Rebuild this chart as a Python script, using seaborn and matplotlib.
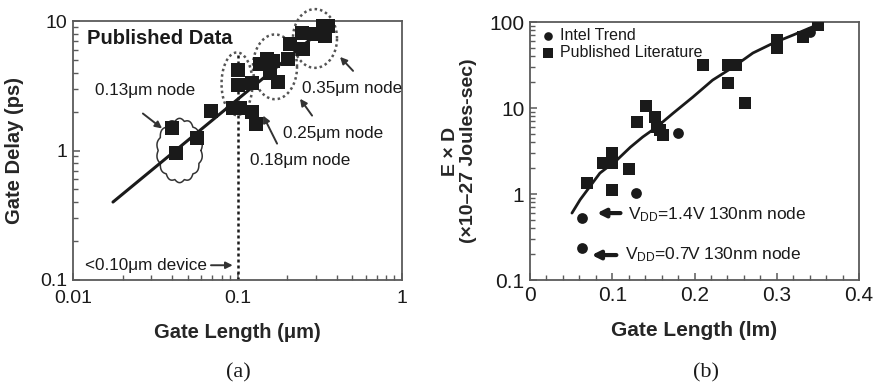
import numpy as np
import pandas as pd
import matplotlib
matplotlib.use("Agg")
import matplotlib.pyplot as plt
import seaborn as sns
from matplotlib.ticker import FixedLocator, FixedFormatter, LogLocator, MultipleLocator, NullFormatter

# ---------------- data ----------------
# (a) Gate delay vs gate length (published data)
a_length = [0.040, 0.042, 0.057, 0.069, 0.094, 0.103, 0.100, 0.100, 0.122, 0.130,
            0.122, 0.137, 0.152, 0.158, 0.164, 0.176, 0.203, 0.208, 0.246, 0.250,
            0.290, 0.330, 0.355, 0.340]
a_delay = [1.50, 0.95, 1.24, 2.03, 2.14, 2.14, 3.2, 4.2, 2.0, 1.6,
           3.3, 4.67, 5.1, 4.0, 4.9, 3.4, 5.1, 6.6, 8.1, 6.1,
           7.9, 9.2, 9.2, 7.7]
a_trend_x = [0.0175, 0.35]
a_trend_y = [0.40, 9.2]
a_xticks = [0.01, 0.1, 1]
a_xticklabels = ["0.01", "0.1", "1"]
a_yticks = [0.1, 1, 10]
a_yticklabels = ["0.1", "1", "10"]

# (b) E x D vs gate length
b_lit_x = [0.069, 0.089, 0.100, 0.100, 0.100, 0.120, 0.130, 0.141, 0.152, 0.155,
           0.162, 0.158, 0.210, 0.241, 0.250, 0.241, 0.261, 0.300, 0.300, 0.332, 0.350]
b_lit_y = [1.34, 2.3, 2.3, 3.0, 1.11, 1.95, 6.9, 10.5, 7.9, 6.0,
           4.8, 5.5, 31.6, 31.6, 31.6, 19.5, 11.4, 61.7, 49.8, 67.0, 92.0]
b_intel_x = [0.063, 0.063, 0.129, 0.180, 0.340]
b_intel_y = [0.53, 0.235, 1.04, 5.1, 76.0]
b_trend_x = [0.051, 0.061, 0.085, 0.106, 0.122, 0.137, 0.154, 0.174, 0.198,
             0.222, 0.247, 0.271, 0.296, 0.320, 0.352]
b_trend_y = [0.60, 0.86, 1.75, 2.5, 3.5, 4.6, 6.0, 8.7, 13.4,
             21.1, 29.9, 43.6, 57.0, 70.6, 95.0]
b_xticks = [0, 0.1, 0.2, 0.3, 0.4]
b_xticklabels = ["0", "0.1", "0.2", "0.3", "0.4"]
b_yticks = [0.1, 1, 10, 100]
b_yticklabels = ["0.1", "1", "10", "100"]

# ---------------- style ----------------
sns.set_style("ticks")
plt.rcParams["font.family"] = ["Liberation Sans", "DejaVu Sans"]
plt.rcParams["mathtext.fontset"] = "custom"
plt.rcParams["mathtext.rm"] = "Liberation Sans"
plt.rcParams["mathtext.it"] = "Liberation Sans:italic"

INK = "#1a1a1a"
SPINE = "#5a5a5a"

fig = plt.figure(figsize=(8.77, 3.87), dpi=100)
W, H = 877, 387
axA = fig.add_axes([73 / W, 1 - 280 / H, 329 / W, 259 / H])
axB = fig.add_axes([530 / W, 1 - 280 / H, 329 / W, 258 / H])


def style_axis(ax, fs):
    for s in ["top", "right", "bottom", "left"]:
        ax.spines[s].set_color(SPINE)
        ax.spines[s].set_linewidth(1.3)
    ax.tick_params(which="both", direction="in", colors=SPINE, labelcolor=INK,
                   labelsize=fs, top=False, right=False)
    ax.tick_params(which="major", length=5, width=1.1, pad=4)
    ax.tick_params(which="minor", length=3.5, width=1.0)


# ---------------- panel (a) ----------------
dfa = pd.DataFrame({"length": a_length, "delay": a_delay})
dfa_t = pd.DataFrame({"length": a_trend_x, "delay": a_trend_y})
axA.set_xscale("log")
axA.set_yscale("log")
sns.lineplot(data=dfa_t, x="length", y="delay", ax=axA, color=INK, lw=2.2, sort=False)
sns.scatterplot(data=dfa, x="length", y="delay", ax=axA, marker="s", s=110,
                color=INK, edgecolor=INK, linewidth=0, zorder=3, clip_on=False)
axA.set_xlim(0.01, 1)
axA.set_ylim(0.1, 10)
style_axis(axA, 14)
axA.tick_params(axis="x", which="major", pad=7)
axA.xaxis.set_major_locator(FixedLocator(a_xticks))
axA.xaxis.set_major_formatter(FixedFormatter(a_xticklabels))
axA.yaxis.set_major_locator(FixedLocator(a_yticks))
axA.yaxis.set_major_formatter(FixedFormatter(a_yticklabels))
axA.xaxis.set_minor_locator(LogLocator(base=10, subs=np.arange(2, 10)))
axA.yaxis.set_minor_locator(LogLocator(base=10, subs=np.arange(2, 10)))
axA.xaxis.set_minor_formatter(NullFormatter())
axA.yaxis.set_minor_formatter(NullFormatter())
axA.set_xlabel("Gate Length (\u03bcm)", fontsize=14.5, fontweight="bold", labelpad=12)
axA.set_ylabel("Gate Delay (ps)", fontsize=14.5, fontweight="bold", labelpad=12)

# vertical dotted line at 0.1 um
axA.plot([0.1, 0.1], [0.1, 5.7], color=INK, lw=1.8, ls=(0, (1.2, 1.2)), zorder=2)

# node ellipses (in log space)
t = np.linspace(0, 2 * np.pi, 400)


def log_ellipse(ax, cx, cy, a, b, wavy=False, **kw):
    r = 1 + (0.08 * np.abs(np.sin(7 * t)) if wavy else 0)
    xs = 10 ** (cx + a * r * np.cos(t))
    ys = 10 ** (cy + b * r * np.sin(t))
    ax.plot(xs, ys, clip_on=False, **kw)


dot = dict(color="#555555", lw=1.8, ls=(0, (1, 1.2)), zorder=1)
log_ellipse(axA, -1.003, 0.515, 0.094, 0.242, **dot)
log_ellipse(axA, -0.772, 0.646, 0.134, 0.25, **dot)
log_ellipse(axA, -0.529, 0.865, 0.134, 0.227, **dot)
log_ellipse(axA, -1.352, 0.0, 0.13, 0.23, wavy=True, color="#333333", lw=1.1, zorder=1)

ANNFS = 12.3
axA.text(0.0122, 7.3, "Published Data", fontsize=14.5, fontweight="bold", color=INK,
         va="center", ha="left")
arr = dict(arrowstyle="-|>", color="#333333", lw=1.4, mutation_scale=10, shrinkA=0, shrinkB=0)
axA.text(0.0136, 2.9, "0.13\u03bcm node", fontsize=ANNFS, color=INK, va="center", ha="left")
axA.annotate("", xy=(0.0348, 1.48), xytext=(0.0266, 1.93), arrowprops=arr)
axA.text(0.247, 3.0, "0.35\u03bcm node", fontsize=ANNFS, color=INK, va="center", ha="left")
axA.annotate("", xy=(0.42, 5.28), xytext=(0.504, 4.12), arrowprops=arr)
axA.text(0.189, 1.35, "0.25\u03bcm node", fontsize=ANNFS, color=INK, va="center", ha="left")
axA.annotate("", xy=(0.24, 2.51), xytext=(0.284, 1.86), arrowprops=arr)
axA.text(0.119, 0.84, "0.18\u03bcm node", fontsize=ANNFS, color=INK, va="center", ha="left")
axA.annotate("", xy=(0.143, 1.86), xytext=(0.174, 1.13), arrowprops=arr)
axA.text(0.0118, 0.13, "<0.10\u03bcm device", fontsize=ANNFS, color=INK, va="center", ha="left")
axA.annotate("", xy=(0.0935, 0.13), xytext=(0.069, 0.13), arrowprops=arr)

# ---------------- panel (b) ----------------
dfb = pd.concat([
    pd.DataFrame({"length": b_intel_x, "exd": b_intel_y, "source": "Intel Trend"}),
    pd.DataFrame({"length": b_lit_x, "exd": b_lit_y, "source": "Published Literature"}),
])
dfb_t = pd.DataFrame({"length": b_trend_x, "exd": b_trend_y})
axB.set_yscale("log")
sns.lineplot(data=dfb_t, x="length", y="exd", ax=axB, color=INK, lw=2.0, sort=False)
sns.scatterplot(data=dfb[dfb.source == "Intel Trend"], x="length", y="exd", ax=axB,
                marker="o", s=60, color=INK, edgecolor=INK, linewidth=0, zorder=3,
                label="Intel Trend")
sns.scatterplot(data=dfb[dfb.source == "Published Literature"], x="length", y="exd", ax=axB,
                marker="s", s=80, color=INK, edgecolor=INK, linewidth=0, zorder=3,
                label="Published Literature")
axB.set_xlim(0, 0.4)
axB.set_ylim(0.1, 100)
style_axis(axB, 15)
axB.xaxis.set_major_locator(FixedLocator(b_xticks))
axB.xaxis.set_major_formatter(FixedFormatter(b_xticklabels))
axB.xaxis.set_minor_locator(MultipleLocator(0.02))
axB.yaxis.set_major_locator(FixedLocator(b_yticks))
axB.yaxis.set_major_formatter(FixedFormatter(b_yticklabels))
axB.yaxis.set_minor_locator(LogLocator(base=10, subs=np.arange(2, 10)))
axB.yaxis.set_minor_formatter(NullFormatter())
axB.set_xlabel("Gate Length (lm)", fontsize=15, fontweight="bold", labelpad=12)
axB.set_ylabel("E \u00d7 D\n(\u00d710\u201327 Joules-sec)", fontsize=14, fontweight="bold",
               labelpad=9, linespacing=1.1)

leg = axB.legend(loc="upper left", frameon=False, fontsize=11.5, handletextpad=0.1,
                 borderaxespad=0.1, labelspacing=0.12, handlelength=1.4,
                 borderpad=0.3, markerscale=0.8)
for txt in leg.get_texts():
    txt.set_color(INK)

arr2 = dict(arrowstyle="-|>", color=INK, lw=3.0, mutation_scale=12, shrinkA=0, shrinkB=0)
axB.text(0.119, 0.57, r"V$_{\rm DD}$=1.4V 130nm node", fontsize=12.5, color=INK,
         va="center", ha="left")
axB.annotate("", xy=(0.0815, 0.60), xytext=(0.110, 0.60), arrowprops=arr2)
axB.text(0.1155, 0.195, r"V$_{\rm DD}$=0.7V 130nm node", fontsize=12.5, color=INK,
         va="center", ha="left")
axB.annotate("", xy=(0.075, 0.195), xytext=(0.105, 0.195), arrowprops=arr2)

# panel captions
fig.text(238 / W, 1 - 373 / H, "(a)", fontsize=16, family="Liberation Serif",
         ha="center", va="center", color=INK)
fig.text(706 / W, 1 - 373 / H, "(b)", fontsize=16, family="Liberation Serif",
         ha="center", va="center", color=INK)

fig.savefig("out.png", dpi=100)
